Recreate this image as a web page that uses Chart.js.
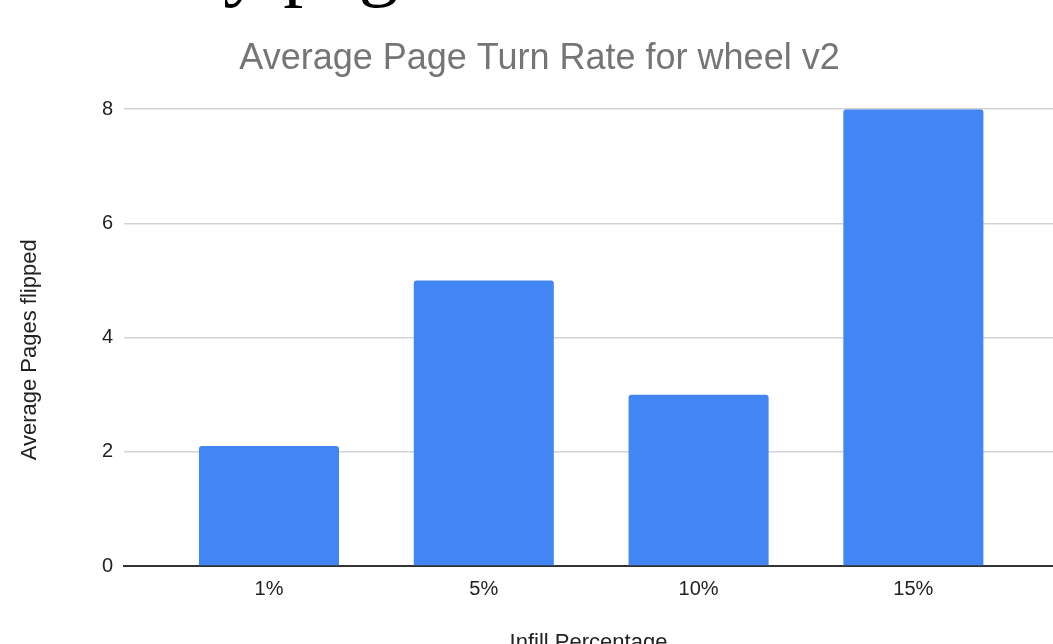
<!DOCTYPE html>
<html>
<head>
<meta charset="utf-8">
<script src="https://cdn.jsdelivr.net/npm/chart.js@4"></script>
<style>
  html, body { margin: 0; padding: 0; background: #fff; overflow: hidden; }
  #wrap { position: relative; width: 1053px; height: 644px; }
  #frag {
    position: absolute; left: 161px; top: -76px;
    font-family: 'Liberation Serif', 'Times New Roman', serif;
    font-size: 80px; line-height: 80px; color: #000; white-space: nowrap;
  }
</style>
</head>
<body>
<div id="wrap">
  <canvas id="grafico" width="1053" height="644"></canvas>
  <div id="frag">my page</div>
</div>
<script>
// dados
const categorias = ['1%', '5%', '10%', '15%'];
const paginas = [2.1, 5, 3, 8];
const yTicks = [0, 2, 4, 6, 8];

const fonte = 'Liberation Sans, Arial, sans-serif';

const ctx = document.getElementById('grafico').getContext('2d');
new Chart(ctx, {
  type: 'bar',
  data: {
    datasets: [{
      label: 'Average Pages flipped',
      data: paginas.map((v, i) => ({ x: i + 1, y: v })),
      backgroundColor: '#4285F4',
      borderRadius: 3,
      barPercentage: 1,
      categoryPercentage: 0.652
    }]
  },
  options: {
    responsive: false,
    animation: false,
    layout: { padding: { left: 26, right: 0, top: 0, bottom: 0 } },
    plugins: {
      legend: { display: false },
      tooltip: { enabled: false },
      title: {
        display: true,
        text: 'Average Page Turn Rate for wheel v2',
        color: '#757575',
        font: { family: fonte, size: 36, weight: 'normal' },
        padding: { top: 37, bottom: 29 }
      }
    },
    scales: {
      x: {
        type: 'linear',
        offset: false,
        min: 0.325,
        max: 4.65,
        afterBuildTicks: (s) => { s.ticks = categorias.map((c, i) => ({ value: i + 1 })); },
        afterFit: (s) => { s.height = 78; },
        grid: { display: false, drawTicks: false },
        border: { display: true, color: '#333', width: 2 },
        ticks: {
          color: '#222',
          font: { family: fonte, size: 20 },
          padding: 11,
          maxRotation: 0,
          callback: (v) => categorias[v - 1]
        },
        title: {
          display: true,
          text: 'Infill Percentage',
          color: '#222',
          font: { family: fonte, size: 22 },
          padding: { top: 0, bottom: -12 }
        }
      },
      y: {
        min: 0,
        max: 8,
        afterBuildTicks: (s) => { s.ticks = yTicks.map(v => ({ value: v })); },
        afterFit: (s) => { s.width = 98; },
        grid: { color: '#d4d4d4', lineWidth: 1.5, drawTicks: false },
        border: { display: false },
        ticks: {
          color: '#222',
          font: { family: fonte, size: 20 },
          padding: 11
        },
        title: {
          display: true,
          text: 'Average Pages flipped    ',
          color: '#222',
          font: { family: fonte, size: 22 },
          padding: { top: -9, bottom: 0 }
        }
      }
    }
  }
});
</script>
</body>
</html>
